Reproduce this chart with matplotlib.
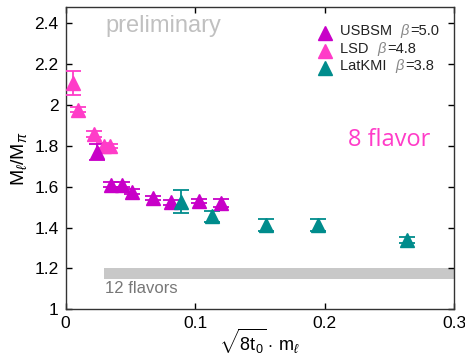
import matplotlib
matplotlib.use("Agg")
import matplotlib.pyplot as plt

plt.rcParams['font.family'] = ['Liberation Sans', 'DejaVu Sans']
plt.rcParams['mathtext.fontset'] = 'custom'
plt.rcParams['mathtext.rm'] = 'Liberation Sans'
plt.rcParams['mathtext.it'] = 'Liberation Sans:italic'

# Data
usbsm_x = [0.0244, 0.035, 0.0432, 0.0514, 0.0677, 0.0813, 0.103, 0.120]
usbsm_y = [1.769, 1.609, 1.609, 1.576, 1.544, 1.524, 1.532, 1.52]
usbsm_e = [0.04, 0.012, 0.012, 0.012, 0.01, 0.012, 0.01, 0.02]

lsd_x = [0.0054, 0.0097, 0.0219, 0.0298, 0.0342]
lsd_y = [2.109, 1.977, 1.859, 1.80, 1.80]
lsd_e = [0.06, 0.012, 0.015, 0.012, 0.01]

kmi_x = [0.089, 0.1132, 0.155, 0.195, 0.2633]
kmi_y = [1.527, 1.454, 1.413, 1.413, 1.34]
kmi_e = [0.056, 0.028, 0.03, 0.03, 0.015]

band_x = [0.0293, 0.3]
band_lo = 1.15
band_hi = 1.20

c_usbsm = '#C800C8'
c_lsd = '#FF3CC8'
c_kmi = '#008C8C'

fig = plt.figure(figsize=(4.65, 3.57), dpi=100)
ax = fig.add_axes([0.141, 0.134, 0.836, 0.845])

ax.fill_between(band_x, band_lo, band_hi, color='#C8C8C8', lw=0, zorder=1)
ax.text(0.0305, 1.10, '12 flavors', color='#777777', fontsize=12, va='center', ha='left')

ms = 10
for xs, ys, es, c in [(lsd_x, lsd_y, lsd_e, c_lsd), (usbsm_x, usbsm_y, usbsm_e, c_usbsm),
                      (kmi_x, kmi_y, kmi_e, c_kmi)]:
    ax.errorbar(xs, ys, yerr=es, fmt='^', color=c, ms=ms, capsize=6, elinewidth=1.3,
                capthick=1.3, zorder=3)

# legend
labels = [('USBSM', '5.0', c_usbsm), ('LSD', '4.8', c_lsd), ('LatKMI', '3.8', c_kmi)]
ly = [2.365, 2.275, 2.19]
for (name, b, c), yy in zip(labels, ly):
    ax.plot([0.2005], [yy - 0.01], '^', color=c, ms=ms, zorder=3)
    t = ax.text(0.2118, yy, name + '  ', fontsize=10.5, va='center', ha='left', color='#222222')
    t2 = ax.annotate(r'$\beta$', xy=(1, 0.5), xycoords=t, fontsize=10.5, va='center', ha='left',
                     color='#888888')
    ax.annotate('=' + b, xy=(1, 0.5), xycoords=t2, fontsize=10.5, va='center', ha='left',
                color='#222222')

ax.text(0.0755, 2.385, 'preliminary', color='#C0C0C0', fontsize=17, ha='center', va='center')
ax.text(0.2496, 1.83, '8 flavor', color='#FF3CC8', fontsize=17, ha='center', va='center',
        family=['Open Sans', 'DejaVu Sans'])

ax.set_xlim(0, 0.3)
ax.set_ylim(1, 2.478)
ax.set_xticks([0, 0.1, 0.2, 0.3])
ax.set_xticklabels(['0', '0.1', '0.2', '0.3'])
ax.set_yticks([1, 1.2, 1.4, 1.6, 1.8, 2, 2.2, 2.4])
ax.set_yticklabels(['1', '1.2', '1.4', '1.6', '1.8', '2', '2.2', '2.4'])
ax.tick_params(direction='in', top=True, right=True, labelsize=12.5, length=4, width=1, pad=5)
for s in ax.spines.values():
    s.set_linewidth(1)
    s.set_color('#333333')

ax.set_xlabel(r'$\sqrt{8\mathrm{t_0}}\cdot\,\mathrm{m}_\ell$', fontsize=13, labelpad=-3)
ax.set_ylabel(r'M$_\ell$/M$_\pi$', fontsize=14, labelpad=4)

fig.savefig('out.png', dpi=100)
